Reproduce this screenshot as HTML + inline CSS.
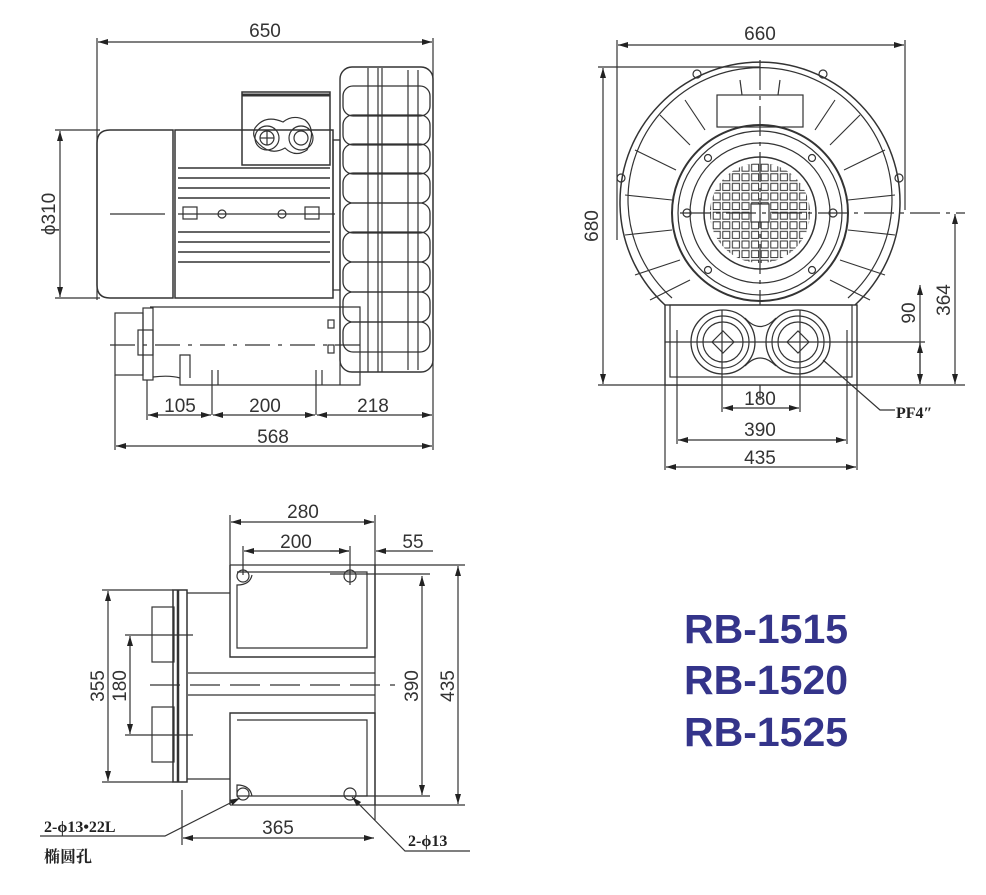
<!DOCTYPE html>
<html><head><meta charset="utf-8"><style>
html,body{margin:0;padding:0;background:#fff}
svg{display:block}
.t{font-family:"Liberation Sans",sans-serif;font-size:19px;fill:#333}
.b{font-family:"Liberation Serif","Noto Serif CJK SC",serif;font-weight:bold;font-size:16px;fill:#222}
.rb{font-family:"Liberation Sans",sans-serif;font-weight:bold;font-size:41px;fill:#34348a}
</style></head><body>
<svg width="986" height="895" viewBox="0 0 986 895" xmlns="http://www.w3.org/2000/svg">
<defs>
<marker id="a" viewBox="0 0 10 6" refX="10" refY="3" markerWidth="10" markerHeight="6" orient="auto-start-reverse" markerUnits="userSpaceOnUse"><path d="M0,0L10,3L0,6z" fill="#222"/></marker>
<pattern id="g" x="712" y="163" width="9.6" height="9.6" patternUnits="userSpaceOnUse"><rect x="1.2" y="1.2" width="7" height="7" fill="none" stroke="#333" stroke-width="1"/></pattern>
<clipPath id="c"><circle cx="760" cy="213" r="50"/></clipPath>
</defs>
<g stroke="#333" stroke-width="1.2" fill="none">
<!-- ===== SIDE VIEW ===== -->
<line x1="97" y1="38" x2="97" y2="300"/><line x1="433" y1="38" x2="433" y2="450"/>
<line x1="98" y1="42" x2="432" y2="42" marker-start="url(#a)" marker-end="url(#a)"/>
<line x1="55" y1="130" x2="100" y2="130"/><line x1="55" y1="298" x2="100" y2="298"/>
<line x1="60" y1="131" x2="60" y2="297" marker-start="url(#a)" marker-end="url(#a)"/>
<path d="M110,130H173V298H110Q97,298 97,285V143Q97,130 110,130Z" stroke-width="1.5"/>
<line x1="110" y1="214" x2="165" y2="214"/>
<rect x="175" y="130" width="158" height="168" stroke-width="1.5"/>
<g stroke-width="1.6">
<line x1="178" y1="168" x2="330" y2="168"/><line x1="178" y1="178" x2="330" y2="178"/><line x1="178" y1="188" x2="330" y2="188"/><line x1="178" y1="198" x2="330" y2="198"/>
<line x1="178" y1="232" x2="330" y2="232"/><line x1="178" y1="242" x2="330" y2="242"/><line x1="178" y1="252" x2="330" y2="252"/><line x1="178" y1="262" x2="330" y2="262"/>
</g>
<line x1="178" y1="214" x2="335" y2="214"/>
<rect x="183" y="207" width="14" height="12"/><rect x="305" y="207" width="14" height="12"/>
<circle cx="222" cy="214" r="4"/><circle cx="282" cy="214" r="4"/>
<rect x="242" y="92" width="88" height="73" stroke-width="1.5"/>
<line x1="242" y1="95" x2="330" y2="95" stroke-width="3"/>
<path d="M255,128q10,-14 28,-6q10,-8 22,-2q12,10 2,30q-12,8 -22,-2q-14,8 -26,-4q-8,-8 -4,-16z"/>
<circle cx="267" cy="138" r="12"/><circle cx="267" cy="138" r="7"/>
<circle cx="301" cy="138" r="12"/><circle cx="301" cy="138" r="7"/>
<line x1="260" y1="138" x2="274" y2="138"/><line x1="267" y1="131" x2="267" y2="145"/>
<line x1="333" y1="140" x2="340" y2="140"/><rect x="333" y="140" width="7" height="150"/>
<!-- fan cage -->
<rect x="340" y="67" width="93" height="305" rx="12" stroke-width="1.4"/>
<g stroke-width="1.3">
<rect x="343" y="86" width="87" height="30" rx="10"/><rect x="343" y="115" width="87" height="30" rx="10"/>
<rect x="343" y="144" width="87" height="30" rx="10"/><rect x="343" y="173" width="87" height="30" rx="10"/>
<rect x="343" y="203" width="87" height="30" rx="10"/><rect x="343" y="232" width="87" height="30" rx="10"/>
<rect x="343" y="262" width="87" height="30" rx="10"/><rect x="343" y="292" width="87" height="30" rx="10"/>
<rect x="343" y="322" width="87" height="30" rx="10"/>
</g>
<line x1="368" y1="68" x2="368" y2="372"/><line x1="378" y1="68" x2="378" y2="372"/><line x1="382" y1="68" x2="382" y2="372"/>
<line x1="408" y1="70" x2="408" y2="370"/><line x1="418" y1="70" x2="418" y2="370"/>
<!-- base -->
<rect x="115" y="313" width="28" height="62"/>
<rect x="143" y="308" width="10" height="72"/>
<path d="M150,307H360V385H180V355H190V378"/>
<rect x="138" y="330" width="15" height="25"/>
<line x1="340" y1="307" x2="340" y2="385"/>
<rect x="328" y="320" width="6" height="8"/><rect x="328" y="345" width="6" height="8"/>
<path d="M153,377Q170,375 180,378"/>
<line x1="110" y1="345" x2="360" y2="345" stroke-dasharray="25,8,4,8"/>
<line x1="212" y1="370" x2="212" y2="415"/><line x1="218" y1="370" x2="218" y2="385"/>
<line x1="316" y1="370" x2="316" y2="415"/><line x1="322" y1="370" x2="322" y2="385"/>
<line x1="147" y1="380" x2="147" y2="420"/><line x1="115" y1="375" x2="115" y2="450"/>
<line x1="148" y1="415" x2="211" y2="415" marker-start="url(#a)" marker-end="url(#a)"/>
<line x1="213" y1="415" x2="315" y2="415" marker-start="url(#a)" marker-end="url(#a)"/>
<line x1="317" y1="415" x2="432" y2="415" marker-start="url(#a)" marker-end="url(#a)"/>
<line x1="116" y1="446" x2="432" y2="446" marker-start="url(#a)" marker-end="url(#a)"/>

<!-- ===== FRONT VIEW ===== -->
<line x1="617" y1="40" x2="617" y2="240"/><line x1="905" y1="40" x2="905" y2="210"/>
<line x1="618" y1="45" x2="904" y2="45" marker-start="url(#a)" marker-end="url(#a)"/>
<line x1="598" y1="67" x2="760" y2="67"/><line x1="598" y1="385" x2="965" y2="385"/>
<line x1="603" y1="68" x2="603" y2="384" marker-start="url(#a)" marker-end="url(#a)"/>
<path d="M665,305 A140,140 0 1 1 855,305" stroke-width="1.5"/>
<path d="M672,298 A132,132 0 1 1 848,298"/>
<circle cx="760" cy="213" r="88" stroke-width="2"/>
<circle cx="760" cy="213" r="82"/>
<circle cx="760" cy="213" r="70"/>
<circle cx="760" cy="213" r="56" stroke-width="1.5"/>
<g stroke-width="1.1">
<line x1="676" y1="170" x2="635" y2="150"/><line x1="672" y1="200" x2="625" y2="195"/><line x1="672" y1="230" x2="625" y2="235"/><line x1="680" y1="260" x2="635" y2="275"/><line x1="690" y1="280" x2="650" y2="300"/><line x1="690" y1="145" x2="660" y2="115"/><line x1="705" y1="130" x2="685" y2="100"/>
<line x1="844" y1="170" x2="885" y2="150"/><line x1="848" y1="200" x2="895" y2="195"/><line x1="848" y1="230" x2="895" y2="235"/><line x1="840" y1="260" x2="885" y2="275"/><line x1="830" y1="280" x2="870" y2="300"/><line x1="830" y1="145" x2="860" y2="115"/><line x1="815" y1="130" x2="835" y2="100"/>
</g>
<rect x="717" y="95" width="86" height="32"/>
<line x1="740" y1="80" x2="742" y2="95"/><line x1="780" y1="80" x2="778" y2="95"/>
<rect x="708" y="160" width="104" height="106" fill="url(#g)" stroke="none" clip-path="url(#c)"/>
<rect x="751" y="204" width="18" height="18" fill="#fff"/>
<line x1="760" y1="60" x2="760" y2="400" stroke-dasharray="30,6,4,6"/>
<line x1="680" y1="213" x2="965" y2="213" stroke-dasharray="30,6,4,6"/>
<circle cx="687" cy="213" r="4"/><circle cx="833" cy="213" r="4"/>
<circle cx="708" cy="158" r="3.5"/><circle cx="812" cy="158" r="3.5"/><circle cx="708" cy="270" r="3.5"/><circle cx="812" cy="270" r="3.5"/>
<circle cx="621" cy="178" r="4"/><circle cx="899" cy="178" r="4"/><circle cx="697" cy="74" r="4"/><circle cx="823" cy="74" r="4"/>
<rect x="665" y="305" width="192" height="80" fill="#fff" stroke-width="1.4"/>
<rect x="670" y="305" width="182" height="72"/>
<path d="M723,310A32,32 0 1 1 723,374A32,32 0 1 1 723,310M798,310A32,32 0 1 1 798,374A32,32 0 1 1 798,310" stroke-width="1.3"/>
<circle cx="723" cy="342" r="26"/><circle cx="723" cy="342" r="20"/>
<circle cx="798" cy="342" r="26"/><circle cx="798" cy="342" r="20"/>
<path d="M712,342l11,-11 11,11 -11,11z"/><path d="M787,342l11,-11 11,11 -11,11z"/>
<path d="M745,318Q760,335 776,318M745,366Q760,350 776,366"/>
<line x1="665" y1="342" x2="925" y2="342"/>
<line x1="677" y1="330" x2="677" y2="444"/><line x1="847" y1="330" x2="847" y2="444"/>
<line x1="722" y1="310" x2="722" y2="412"/><line x1="800" y1="310" x2="800" y2="412"/>
<line x1="665" y1="385" x2="665" y2="470"/><line x1="857" y1="385" x2="857" y2="470"/>
<line x1="920" y1="285" x2="920" y2="384" marker-start="url(#a)"/>
<line x1="920" y1="343" x2="920" y2="384" marker-start="url(#a)" marker-end="url(#a)"/>
<line x1="955" y1="214" x2="955" y2="384" marker-start="url(#a)" marker-end="url(#a)"/>
<line x1="723" y1="408" x2="799" y2="408" marker-start="url(#a)" marker-end="url(#a)"/>
<line x1="678" y1="440" x2="846" y2="440" marker-start="url(#a)" marker-end="url(#a)"/>
<line x1="666" y1="467" x2="856" y2="467" marker-start="url(#a)" marker-end="url(#a)"/>
<polyline points="823,360 880,410 895,410"/>

<!-- ===== BOTTOM VIEW ===== -->
<line x1="230" y1="515" x2="230" y2="580"/><line x1="375" y1="515" x2="375" y2="820"/>
<line x1="231" y1="522" x2="374" y2="522" marker-start="url(#a)" marker-end="url(#a)"/>
<line x1="243" y1="546" x2="243" y2="575"/><line x1="350" y1="546" x2="350" y2="585"/>
<line x1="244" y1="551" x2="349" y2="551" marker-start="url(#a)"/>
<line x1="330" y1="551" x2="349" y2="551" marker-end="url(#a)"/>
<line x1="376" y1="551" x2="433" y2="551" marker-start="url(#a)"/>
<line x1="230" y1="565" x2="465" y2="565"/><line x1="230" y1="805" x2="465" y2="805"/>
<line x1="330" y1="574" x2="430" y2="574"/><line x1="330" y1="796" x2="430" y2="796"/>
<path d="M230,565V657H375V565" stroke-width="1.4"/>
<path d="M237,572H367V648H237V585Q250,585 252,575" />
<path d="M230,805V713H375V805" stroke-width="1.4"/>
<path d="M237,720H367V796H237V785Q250,785 252,796"/>
<circle cx="243" cy="576" r="6"/><circle cx="350" cy="576" r="6"/>
<circle cx="243" cy="794" r="6"/><circle cx="350" cy="794" r="6"/>
<line x1="188" y1="673" x2="375" y2="673"/><line x1="188" y1="695" x2="375" y2="695"/>
<line x1="150" y1="685" x2="395" y2="685" stroke-dasharray="30,10"/>
<rect x="173" y="590" width="14" height="192" stroke-width="1.5"/>
<line x1="178" y1="590" x2="178" y2="782" stroke-width="2.5"/>
<rect x="152" y="607" width="22" height="55"/><rect x="152" y="707" width="22" height="55"/>
<line x1="187" y1="593" x2="230" y2="593"/><line x1="187" y1="779" x2="230" y2="779"/>
<line x1="102" y1="590" x2="173" y2="590"/><line x1="102" y1="782" x2="173" y2="782"/>
<line x1="125" y1="635" x2="193" y2="635"/><line x1="125" y1="735" x2="193" y2="735"/>
<line x1="108" y1="591" x2="108" y2="781" marker-start="url(#a)" marker-end="url(#a)"/>
<line x1="130" y1="636" x2="130" y2="734" marker-start="url(#a)" marker-end="url(#a)"/>
<line x1="422" y1="576" x2="422" y2="795" marker-start="url(#a)" marker-end="url(#a)"/>
<line x1="458" y1="566" x2="458" y2="804" marker-start="url(#a)" marker-end="url(#a)"/>
<line x1="182" y1="790" x2="182" y2="845"/>
<line x1="183" y1="838" x2="374" y2="838" marker-start="url(#a)" marker-end="url(#a)"/>
<polyline points="40,836 165,836 240,798" marker-end="url(#a)"/>
<polyline points="470,851 405,851 352,797" marker-end="url(#a)"/>
</g>
<!-- text -->
<text class="t" x="265" y="37" text-anchor="middle">650</text>
<text class="t" transform="translate(55,214) rotate(-90)" text-anchor="middle">ϕ310</text>
<text class="t" x="180" y="412" text-anchor="middle">105</text>
<text class="t" x="265" y="412" text-anchor="middle">200</text>
<text class="t" x="373" y="412" text-anchor="middle">218</text>
<text class="t" x="273" y="443" text-anchor="middle">568</text>
<text class="t" x="760" y="40" text-anchor="middle">660</text>
<text class="t" transform="translate(598,226) rotate(-90)" text-anchor="middle">680</text>
<text class="t" transform="translate(915,313) rotate(-90)" text-anchor="middle">90</text>
<text class="t" transform="translate(950,300) rotate(-90)" text-anchor="middle">364</text>
<text class="t" x="760" y="405" text-anchor="middle">180</text>
<text class="t" x="760" y="436" text-anchor="middle">390</text>
<text class="t" x="760" y="464" text-anchor="middle">435</text>
<text class="b" x="896" y="418">PF4″</text>
<text class="t" x="303" y="518" text-anchor="middle">280</text>
<text class="t" x="296" y="548" text-anchor="middle">200</text>
<text class="t" x="413" y="548" text-anchor="middle">55</text>
<text class="t" transform="translate(104,686) rotate(-90)" text-anchor="middle">355</text>
<text class="t" transform="translate(126,686) rotate(-90)" text-anchor="middle">180</text>
<text class="t" transform="translate(418,686) rotate(-90)" text-anchor="middle">390</text>
<text class="t" transform="translate(454,686) rotate(-90)" text-anchor="middle">435</text>
<text class="t" x="278" y="834" text-anchor="middle">365</text>
<text class="b" x="44" y="832">2-ϕ13•22L</text>
<text class="b" x="44" y="862">椭圆孔</text>
<text class="b" x="408" y="846">2-ϕ13</text>
<text class="rb" x="684" y="643">RB-1515</text>
<text class="rb" x="684" y="694">RB-1520</text>
<text class="rb" x="684" y="746">RB-1525</text>
</svg>
</body></html>
